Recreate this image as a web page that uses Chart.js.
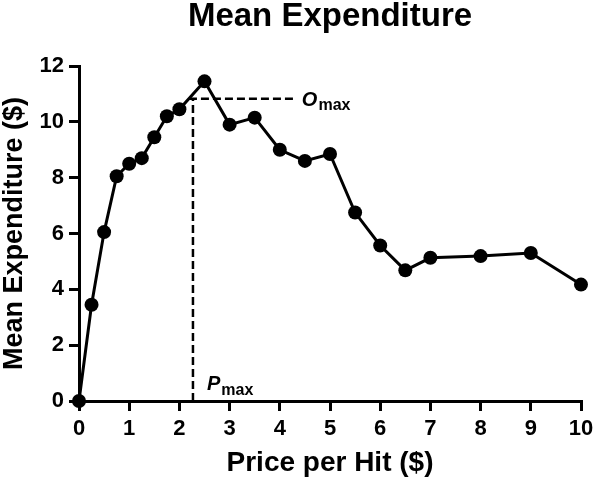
<!DOCTYPE html>
<html>
<head>
<meta charset="utf-8">
<script src="https://cdn.jsdelivr.net/npm/chart.js@4"></script>
<style>
  html, body { margin: 0; padding: 0; background: #fff; }
  #wrap { width: 600px; height: 484px; position: relative; }
</style>
</head>
<body>
<div id="wrap"><canvas id="expChart"></canvas></div>
<script>
// price per hit ($) and mean expenditure ($)
const prices = [0, 0.25, 0.5, 0.75, 1, 1.25, 1.5, 1.75, 2, 2.5, 3, 3.5, 4, 4.5, 5, 5.5, 6, 6.5, 7, 8, 9, 10];
const expenditure = [0, 3.45, 6.05, 8.05, 8.5, 8.7, 9.45, 10.2, 10.45, 11.45, 9.9, 10.15, 9.0, 8.6, 8.85, 6.75, 5.57, 4.68, 5.13, 5.19, 5.3, 4.17];

// Pmax / Omax reference lines
const pmax = 2.27;
const omax = 10.83;
const omaxLineX = [2.19, 4.3];

const xTicks = [0, 1, 2, 3, 4, 5, 6, 7, 8, 9, 10];
const yTicks = [0, 2, 4, 6, 8, 10, 12];

Chart.defaults.font.family = "'Liberation Sans', Arial, sans-serif";
Chart.defaults.color = "#000";

const points = prices.map((p, i) => ({ x: p, y: expenditure[i] }));
const pmaxLine = [{ x: pmax, y: 0 }, { x: pmax, y: omax }];
const omaxLine = omaxLineX.map(x => ({ x: x, y: omax }));

// subscripted labels next to the dashed lines
const maxLabels = {
    id: "maxLabels",
    afterDatasetsDraw(chart){
        const ctx = chart.ctx;
        const xs = chart.scales.x, ys = chart.scales.y;
        ctx.save();
        ctx.fillStyle = "#000";
        ctx.textBaseline = "alphabetic";
        ctx.textAlign = "left";

        function subLabel(letter, x, y){
            ctx.font = "italic bold 20px 'Liberation Sans', Arial, sans-serif";
            ctx.fillText(letter, x, y);
            const w = ctx.measureText(letter).width;
            ctx.font = "bold 16px 'Liberation Sans', Arial, sans-serif";
            ctx.fillText("max", x + w + 1, y + 4.5);
        }

        subLabel("O", xs.getPixelForValue(omaxLineX[1]) + 7, ys.getPixelForValue(omax) + 7);
        subLabel("P", xs.getPixelForValue(pmax) + 14, ys.getPixelForValue(0) - 11);
        ctx.restore();
    }
};

const axisGrid = {
    display: true,
    drawOnChartArea: false,
    drawTicks: true,
    tickLength: 10,
    tickWidth: 3,
    tickColor: "#000",
    color: "#000",
    lineWidth: 3
};

new Chart(document.getElementById("expChart"), {
    type: "line",
    data: {
        datasets: [
            {
                label: "Mean Expenditure",
                data: points,
                borderColor: "#000",
                backgroundColor: "#000",
                borderWidth: 3,
                pointRadius: 7,
                pointBackgroundColor: "#000",
                pointBorderColor: "#000",
                pointBorderWidth: 0,
                tension: 0,
                clip: false
            },
            {
                label: "Pmax",
                data: pmaxLine,
                borderColor: "#000",
                borderWidth: 2.5,
                borderDash: [8, 4],
                pointRadius: 0,
                clip: false
            },
            {
                label: "Omax",
                data: omaxLine,
                borderColor: "#000",
                borderWidth: 2.5,
                borderDash: [8, 4],
                pointRadius: 0,
                clip: false
            }
        ]
    },
    options: {
        responsive: true,
        maintainAspectRatio: false,
        animation: false,
        layout: { padding: { left: 0, right: 19, top: 0, bottom: 0 } },
        plugins: {
            legend: { display: false },
            tooltip: { enabled: false },
            title: {
                display: true,
                fullSize: false,
                text: "Mean Expenditure",
                color: "#000",
                font: { size: 33, weight: "bold", lineHeight: 1.0 },
                padding: { top: 0, bottom: 33 }
            }
        },
        scales: {
            x: {
                type: "linear",
                min: 0,
                max: 10,
                afterBuildTicks: axis => { axis.ticks = xTicks.map(v => ({ value: v })); },
                afterFit: axis => { axis.height = 83; },
                grid: axisGrid,
                border: { display: true, color: "#000", width: 3 },
                ticks: {
                    font: { size: 22, weight: "bold" },
                    padding: 5,
                    maxRotation: 0
                },
                title: {
                    display: true,
                    text: "Price per Hit ($)",
                    font: { size: 28, weight: "bold", lineHeight: 1.1 },
                    padding: { top: 0, bottom: 5 }
                }
            },
            y: {
                min: 0,
                max: 12,
                afterBuildTicks: axis => { axis.ticks = yTicks.map(v => ({ value: v })); },
                afterFit: axis => { axis.width = 79; },
                grid: axisGrid,
                border: { display: true, color: "#000", width: 3 },
                ticks: {
                    font: { size: 22, weight: "bold" },
                    padding: 5
                },
                title: {
                    display: true,
                    text: "Mean Expenditure ($)",
                    font: { size: 27, weight: "bold", lineHeight: 1.1 },
                    padding: { top: 0, bottom: 0 }
                }
            }
        }
    },
    plugins: [maxLabels]
});
</script>
</body>
</html>
